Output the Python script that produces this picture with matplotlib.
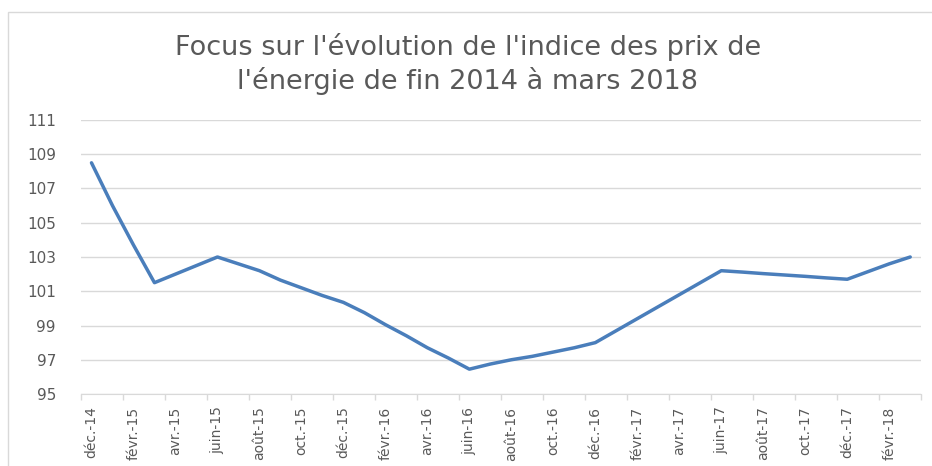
import matplotlib.pyplot as plt
from matplotlib.patches import Rectangle
import numpy as np

# mois de déc-14 à mars-18 (40 points mensuels)
mois = ['déc.-14', 'janv.-15', 'févr.-15', 'mars-15', 'avr.-15', 'mai-15', 'juin-15',
        'juil.-15', 'août-15', 'sept.-15', 'oct.-15', 'nov.-15', 'déc.-15',
        'janv.-16', 'févr.-16', 'mars-16', 'avr.-16', 'mai-16', 'juin-16',
        'juil.-16', 'août-16', 'sept.-16', 'oct.-16', 'nov.-16', 'déc.-16',
        'janv.-17', 'févr.-17', 'mars-17', 'avr.-17', 'mai-17', 'juin-17',
        'juil.-17', 'août-17', 'sept.-17', 'oct.-17', 'nov.-17', 'déc.-17',
        'janv.-18', 'févr.-18', 'mars-18']
indice = [108.5, 106.0, 103.7, 101.5, 102.0, 102.5, 103.0,
          102.6, 102.2, 101.65, 101.2, 100.75, 100.35,
          99.75, 99.05, 98.4, 97.7, 97.1, 96.45,
          96.75, 97.0, 97.2, 97.45, 97.7, 98.0,
          98.7, 99.4, 100.1, 100.8, 101.5, 102.2,
          102.12, 102.03, 101.95, 101.87, 101.78, 101.7,
          102.15, 102.6, 103.0]
titre = "Focus sur l'évolution de l'indice des prix de\nl'énergie de fin 2014 à mars 2018"

gris = '#595959'
grille = '#D9D9D9'
bleu = '#4A7EBB'

fig = plt.figure(figsize=(9.32, 4.66), dpi=100)
ax = fig.add_axes([0.0869, 0.1545, 0.9879 - 0.0869, 0.7425 - 0.1545])

x = np.arange(len(indice))
ax.plot(x, indice, color=bleu, linewidth=2.5, solid_capstyle='round')

ax.set_xlim(-0.5, len(indice) - 0.5)
ax.set_ylim(95, 111)
ax.set_yticks(np.arange(95, 112, 2))
ax.yaxis.grid(True, color=grille, linewidth=1)
ax.set_axisbelow(True)

ax.set_xticks(x[::2])
ax.set_xticklabels(mois[::2], rotation=90)
ax.set_xticks(np.arange(-0.5, len(indice), 2), minor=True)
ax.tick_params(axis='x', which='major', length=0, pad=9, labelsize=10, labelcolor=gris)
ax.tick_params(axis='x', which='minor', length=4, color=grille, width=1)
ax.tick_params(axis='y', length=0, pad=18, labelsize=11, labelcolor=gris)

for s in ['top', 'right', 'left']:
    ax.spines[s].set_visible(False)
ax.spines['bottom'].set_color(grille)

fig.text(0.502, 0.862, titre, ha='center', va='center', fontsize=19.5, color=gris,
         linespacing=1.26)

# cadre du graphique
fig.patches.append(Rectangle((8 / 932, -0.1), 1.0, 1 - 12 / 466 + 0.1,
                             transform=fig.transFigure, fill=False,
                             edgecolor=grille, linewidth=1))

fig.savefig('out.png', dpi=100)
